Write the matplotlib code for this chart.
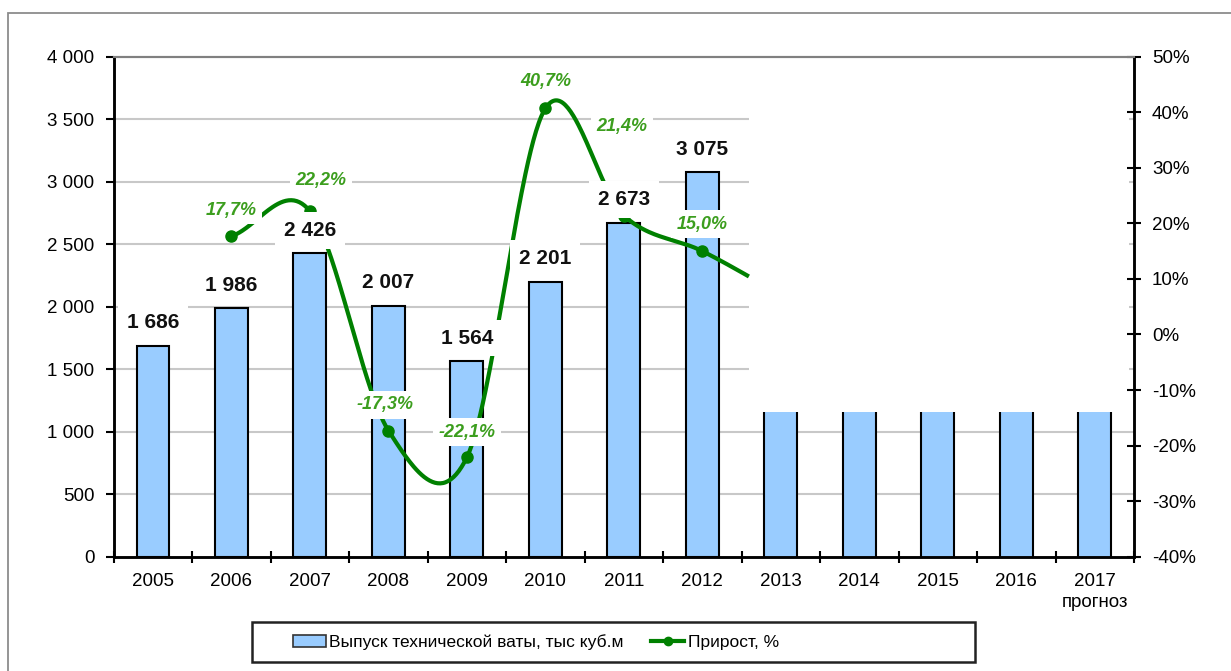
import numpy as np
import matplotlib
matplotlib.use('Agg')
import matplotlib.pyplot as plt
from matplotlib.patches import Rectangle, Patch
from matplotlib.lines import Line2D

# ---------------- data ----------------
years = ['2005', '2006', '2007', '2008', '2009', '2010', '2011', '2012',
         '2013', '2014', '2015', '2016', '2017']
year_ticklabels = years[:-1] + ['2017\nпрогноз']
output = [1686, 1986, 2426, 2007, 1564, 2201, 2673, 3075,
          1160, 1160, 1160, 1160, 1160]
output_labeled = [1686, 1986, 2426, 2007, 1564, 2201, 2673, 3075]
growth = [np.nan, 17.7, 22.2, -17.3, -22.1, 40.7, 21.4, 15.0,
          7.2, np.nan, np.nan, np.nan, np.nan]
growth_labeled = [np.nan, 17.7, 22.2, -17.3, -22.1, 40.7, 21.4, 15.0]
y_left_ticks = [0, 500, 1000, 1500, 2000, 2500, 3000, 3500, 4000]
y_right_ticks = [-40, -30, -20, -10, 0, 10, 20, 30, 40, 50]

# ---------------- style ----------------
plt.rcParams['font.family'] = ['Liberation Sans', 'DejaVu Sans']
BAR_COLOR = '#99CCFF'
LINE_COLOR = '#008000'
LABEL_GREEN = '#3C9E1E'
GRID_COLOR = '#C8C8C8'

fig = plt.figure(figsize=(12.31, 6.71), dpi=100)
W, H = 1231, 671
ax = fig.add_axes([113.75 / W, (H - 556.7) / H, (1134 - 113.75) / W, 500 / H])
ax2 = ax.twinx()

x = np.arange(len(years))
bar_w = 0.42
ax.set_xlim(-0.5, len(years) - 0.5)
ax.set_ylim(0, 4000)
ax2.set_ylim(-40, 50)

# region of the original chart that is blanked out (forecast area)
mask_x = 7.6
mask_y = output[8]

# gridlines
for v in y_left_ticks[1:-1]:
    if v < mask_y:
        ax.hlines(v, -0.5, len(years) - 0.5, color=GRID_COLOR, lw=1.5, zorder=0.5)
    else:
        ax.hlines(v, -0.5, mask_x, color=GRID_COLOR, lw=1.5, zorder=0.5)
        ax.hlines(v, len(years) - 0.57, len(years) - 0.5, color=GRID_COLOR, lw=1.5, zorder=0.5)

# bars
n_lab = len(output_labeled)
ax.bar(x[:n_lab], output[:n_lab], width=bar_w, color=BAR_COLOR,
       edgecolor='black', linewidth=1.5, zorder=2)
ax.bar(x[n_lab:], output[n_lab:], width=bar_w, color=BAR_COLOR,
       edgecolor='none', linewidth=0, zorder=2)
for xi, v in zip(x[n_lab:], output[n_lab:]):
    ax.vlines([xi - bar_w / 2, xi + bar_w / 2], 0, v, color='black', lw=1.5, zorder=2.1)

# bar labels (drawn on the top axes so their white boxes hide the line)
for xi, v in zip(x, output_labeled):
    s = f'{v:,}'.replace(',', ' ')
    ax2.annotate(s, (xi, v), xycoords=ax.transData, xytext=(0, 23),
                 textcoords='offset pixels',
                 ha='center', va='center', fontsize=15, fontweight='bold',
                 color='#111111', zorder=6,
                 bbox=dict(boxstyle='square,pad=0.42', fc='white', ec='none'))

# smoothed growth line (Catmull-Rom like Excel's smoothed line)
gx = np.array([xi for xi, g in zip(x, growth) if not np.isnan(g)], dtype=float)
gy = np.array([g for g in growth if not np.isnan(g)], dtype=float)
m = np.zeros_like(gy)
m[1:-1] = (gy[2:] - gy[:-2]) / 2
m[0] = gy[1] - gy[0]
m[-1] = gy[-1] - gy[-2]
cx, cy = [], []
t = np.linspace(0, 1, 60)
h00 = 2 * t**3 - 3 * t**2 + 1
h10 = t**3 - 2 * t**2 + t
h01 = -2 * t**3 + 3 * t**2
h11 = t**3 - t**2
for i in range(len(gy) - 1):
    cx.append(gx[i] + t)
    cy.append(h00 * gy[i] + h10 * m[i] + h01 * gy[i + 1] + h11 * m[i + 1])
cx = np.concatenate(cx)
cy = np.concatenate(cy)
keep = cx <= mask_x
ax2.plot(cx[keep], cy[keep], color=LINE_COLOR, lw=3, zorder=3,
         solid_capstyle='butt')
ax2.plot(x[:n_lab], growth_labeled, linestyle='none', marker='o',
         markersize=8, color=LINE_COLOR, zorder=3)

# growth labels
label_offsets = {1: (0, 26), 2: (11, 31), 3: (-3, 26), 4: (0, 25),
                 5: (0, 27), 6: (-2, 89), 7: (0, 27)}
for xi, g in zip(x, growth_labeled):
    if np.isnan(g):
        continue
    s = f'{g:.1f}%'.replace('.', ',')
    dx, dy = label_offsets[int(xi)]
    ax2.annotate(s, (xi, g), xytext=(dx, dy), textcoords='offset pixels',
                 ha='center', va='center', fontsize=13, fontstyle='italic',
                 fontweight='bold', color=LABEL_GREEN, zorder=6,
                 bbox=dict(boxstyle='square,pad=0.3', fc='white', ec='none'))

# axes styling
ax.set_zorder(1)
ax2.set_zorder(2)
ax2.patch.set_visible(False)
for a in (ax, ax2):
    a.spines['top'].set_color('#808080')
    a.spines['top'].set_linewidth(1.5)
    a.spines['left'].set_linewidth(1.8)
    a.spines['right'].set_linewidth(1.8)
    a.spines['bottom'].set_linewidth(1.8)

ax.set_yticks(y_left_ticks)
ax.set_yticklabels([f'{v:,}'.replace(',', ' ') for v in y_left_ticks])
ax.tick_params(axis='y', direction='out', length=6, width=1.5, labelsize=13.5, pad=8)

ax.set_xticks(x)
ax.set_xticklabels(year_ticklabels, linespacing=1.25)
ax.tick_params(axis='x', which='major', length=0, labelsize=13.5, pad=12)
ax.set_xticks(np.arange(-0.5, len(years), 1.0), minor=True)
ax.tick_params(axis='x', which='minor', direction='inout', length=9, width=1.5)

ax2.set_yticks(y_right_ticks)
ax2.set_yticklabels([f'{v}%' for v in y_right_ticks])
ax2.tick_params(axis='y', direction='inout', length=10, width=1.5, labelsize=13.5, pad=8)

# legend
handles = [Patch(facecolor=BAR_COLOR, edgecolor='#333333', linewidth=1.2),
           Line2D([0], [0], color=LINE_COLOR, lw=3, marker='o', markersize=6)]
labels = ['Выпуск технической ваты, тыс куб.м', 'Прирост, %']
fig.legend(handles, labels, loc='center left',
           bbox_to_anchor=(284 / W, (H - 642) / H), ncol=2, frameon=False,
           borderpad=0, handlelength=1.9, handletextpad=0.2, columnspacing=1.6,
           prop={'size': 12.5})
fig.add_artist(Rectangle((252 / W, (H - 662) / H), (975 - 252) / W, 40 / H,
                         transform=fig.transFigure, fill=False,
                         edgecolor='#222222', lw=1.8))

# outer frame
fig.add_artist(Rectangle((8 / W, -0.2), 1.3, (H - 13) / H + 0.2,
                         transform=fig.transFigure, fill=False,
                         edgecolor='#8C8C8C', lw=1.3))

fig.savefig('out.png', dpi=100)
